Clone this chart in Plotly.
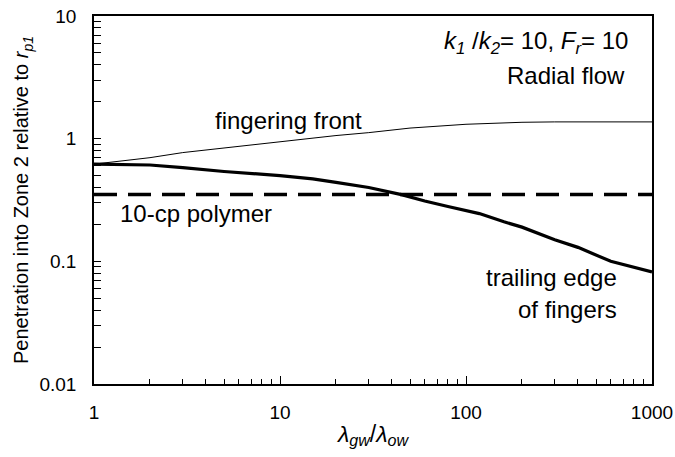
import plotly.graph_objects as go

# Data
front_x = [1, 2, 3, 5, 10, 20, 30, 50, 100, 150, 200, 300, 500, 1000]
front_y = [0.62, 0.70, 0.77, 0.84, 0.95, 1.06, 1.12, 1.22, 1.31, 1.35, 1.36, 1.37, 1.37, 1.37]

trail_x = [1, 2, 3, 5, 10, 15, 20, 30, 45, 60, 80, 118, 160, 200, 300, 400, 600, 1000]
trail_y = [0.62, 0.61, 0.58, 0.54, 0.50, 0.47, 0.44, 0.40, 0.35, 0.31, 0.28, 0.245, 0.21, 0.19, 0.15, 0.13, 0.10, 0.082]

polymer_x = [1, 1000]
polymer_y = [0.35, 0.35]

x_ticks = [1, 10, 100, 1000]
x_ticktext = ["1", "10", "100", "1000"]
y_ticks = [0.01, 0.1, 1, 10]
y_ticktext = ["0.01", "0.1", "1", "10"]
minor_mult = [2, 3, 4, 5, 6, 7, 8, 9]
x_minor = [m * d for d in [1, 10, 100] for m in minor_mult]
y_minor = [m * d for d in [0.01, 0.1, 1] for m in minor_mult]

FONT = "Liberation Sans, Arial, sans-serif"

fig = go.Figure()
fig.add_trace(go.Scatter(x=front_x, y=front_y, mode="lines",
                         line=dict(color="black", width=1), showlegend=False))
fig.add_trace(go.Scatter(x=trail_x, y=trail_y, mode="lines",
                         line=dict(color="black", width=3.2), showlegend=False))
fig.add_trace(go.Scatter(x=polymer_x, y=polymer_y, mode="lines",
                         line=dict(color="black", width=3.5, dash="23px,11px"), showlegend=False))

fig.update_layout(
    width=675, height=457,
    margin=dict(l=94, r=23, t=16, b=73),
    paper_bgcolor="white", plot_bgcolor="white",
    font=dict(family=FONT, color="black", size=19),
    xaxis=dict(type="log", range=[0, 3], tickvals=x_ticks, ticktext=x_ticktext,
               automargin=False,
               ticks="inside", ticklen=8, tickwidth=1, tickcolor="black",
               showline=True, linecolor="black", linewidth=1.5, mirror=True,
               showgrid=False, zeroline=False,
               minor=dict(tickvals=x_minor, ticks="inside", ticklen=5,
                          tickcolor="black", tickwidth=1, showgrid=False),
               tickfont=dict(size=19), ticklabelstandoff=10,
               title=dict(text="<i>λ<sub>gw</sub></i>/<i>λ<sub>ow</sub></i>",
                          font=dict(size=23), standoff=4)),
    yaxis=dict(type="log", range=[-2, 1], tickvals=y_ticks, ticktext=y_ticktext,
               automargin=False,
               ticks="inside", ticklen=7, tickwidth=1, tickcolor="black",
               showline=True, linecolor="black", linewidth=1.5, mirror=True,
               showgrid=False, zeroline=False,
               minor=dict(tickvals=y_minor, ticks="inside", ticklen=7,
                          tickcolor="black", tickwidth=1, showgrid=False),
               tickfont=dict(size=19), ticklabelstandoff=12,
               title=dict(text="Penetration into Zone 2 relative to <i>r<sub>p1</sub></i>",
                          font=dict(size=20), standoff=5)),
)

ann = [
    dict(x=1.043, y=0.152, text="fingering front", xanchor="center", yanchor="middle"),
    dict(x=0.129, y=-0.606, text="10-cp polymer", xanchor="left", yanchor="middle"),
    dict(x=2.823, y=-1.135, text="trailing edge", xanchor="right", yanchor="middle"),
    dict(x=2.823, y=-1.396, text="of fingers", xanchor="right", yanchor="middle"),
    dict(x=2.88, y=0.78, text="<i>k<sub>1</sub></i> /<i>k<sub>2</sub></i>= 10, <i>F<sub>r</sub></i>= 10",
         xanchor="right", yanchor="middle"),
    dict(x=2.866, y=0.519, text="Radial flow", xanchor="right", yanchor="middle"),
]
for a in ann:
    fig.add_annotation(xref="x", yref="y", showarrow=False,
                       font=dict(size=24, family=FONT, color="black"), **a)

fig.write_html("out.html")
